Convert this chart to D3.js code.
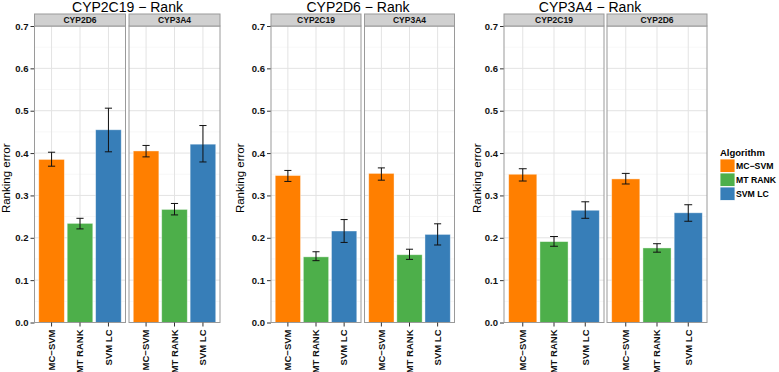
<!DOCTYPE html>
<html lang="en">
<head>
<meta charset="UTF-8">
<title>Ranking error</title>
<script src="https://d3js.org/d3.v7.min.js"></script>
<style>
    body { margin: 0; background: #fff; }
    svg { font-family: "Liberation Sans", Arial, sans-serif; }
    .axis path { display: none; }
    .axis line { stroke: #333; }
    .axis text { font-size: 9.5px; font-weight: bold; fill: #111; }
</style>
</head>
<body>
<svg width="779" height="372"></svg>
<script>
    // data
    let algorithms = ["MC\u2212SVM", "MT RANK", "SVM LC"];
    let colors = ["#FF7F00", "#4DAF4A", "#377EB8"];
    let chartTitles = ["CYP2C19 \u2212 Rank", "CYP2D6 \u2212 Rank", "CYP3A4 \u2212 Rank"];
    let panelNames = [["CYP2D6", "CYP3A4"], ["CYP2C19", "CYP3A4"], ["CYP2C19", "CYP2D6"]];
    let meanErr = [
        [[0.385, 0.234, 0.455], [0.405, 0.267, 0.421]],
        [[0.347, 0.155, 0.216], [0.352, 0.160, 0.208]],
        [[0.350, 0.191, 0.265], [0.339, 0.176, 0.259]]
    ];
    let lowErr = [
        [[0.369, 0.221, 0.403], [0.391, 0.254, 0.379]],
        [[0.333, 0.146, 0.189], [0.336, 0.149, 0.183]],
        [[0.334, 0.180, 0.246], [0.327, 0.166, 0.239]]
    ];
    let highErr = [
        [[0.402, 0.246, 0.506], [0.418, 0.281, 0.465]],
        [[0.359, 0.167, 0.243], [0.365, 0.173, 0.233]],
        [[0.363, 0.203, 0.285], [0.352, 0.186, 0.278]]
    ];
    let yTicks = [0, 0.1, 0.2, 0.3, 0.4, 0.5, 0.6, 0.7];
    let yMinor = [0.05, 0.15, 0.25, 0.35, 0.45, 0.55, 0.65];

    // layout of the three charts
    let chartLeft = [34.5, 271, 504];
    let panelW = [91, 90, 100];
    let panelGap = [3.5, 3.5, 3];
    let titleX = [127.5, 358, 590];
    let yLabelX = [10, 244, 481];
    let plotTop = 26, plotBottom = 322.5, stripH = 12;

    let svg = d3.select("svg");

    let y = d3.scaleLinear().domain([0, 0.7]).range([plotBottom, plotTop]);
    let color = d3.scaleOrdinal().domain(algorithms).range(colors);

    chartTitles.forEach((title, c) => {
        let g = svg.append("g");
        let left = chartLeft[c];

        g.append("text")
            .attr("x", titleX[c])
            .attr("y", 12)
            .attr("text-anchor", "middle")
            .attr("font-size", "14px")
            .attr("fill", "#000")
            .text(title);

        g.append("text")
            .attr("transform", `translate(${yLabelX[c]},${(plotTop + plotBottom) / 2 + 4}) rotate(-90)`)
            .attr("text-anchor", "middle")
            .attr("font-size", "11.5px")
            .attr("fill", "#000")
            .text("Ranking error");

        // y axis
        g.append("g")
            .attr("class", "axis")
            .attr("transform", `translate(${left},0)`)
            .call(d3.axisLeft(y).tickValues(yTicks).tickSize(4).tickPadding(2).tickFormat(d3.format(".1f")));

        panelNames[c].forEach((pname, p) => {
            let x0 = left + p * (panelW[c] + panelGap[c]);
            let x = d3.scaleBand()
                .domain(algorithms)
                .range([x0, x0 + panelW[c]])
                .paddingInner(0.1)
                .paddingOuter(0.15);
            let pg = g.append("g");

            // panel background + grid
            pg.append("rect")
                .attr("x", x0).attr("y", plotTop)
                .attr("width", panelW[c]).attr("height", plotBottom - plotTop)
                .attr("fill", "#fff");

            pg.selectAll(".minor").data(yMinor).enter().append("line")
                .attr("x1", x0).attr("x2", x0 + panelW[c])
                .attr("y1", d => y(d)).attr("y2", d => y(d))
                .attr("stroke", "#f2f2f2").attr("stroke-width", 0.6);

            pg.selectAll(".major").data(yTicks).enter().append("line")
                .attr("x1", x0).attr("x2", x0 + panelW[c])
                .attr("y1", d => y(d)).attr("y2", d => y(d))
                .attr("stroke", "#e3e3e3").attr("stroke-width", 1);

            pg.selectAll(".vgrid").data(algorithms).enter().append("line")
                .attr("x1", d => x(d) + x.bandwidth() / 2).attr("x2", d => x(d) + x.bandwidth() / 2)
                .attr("y1", plotTop).attr("y2", plotBottom)
                .attr("stroke", "#e3e3e3").attr("stroke-width", 1);

            let rows = algorithms.map((a, i) => ({
                alg: a,
                mean: meanErr[c][p][i],
                lo: lowErr[c][p][i],
                hi: highErr[c][p][i]
            }));

            pg.selectAll(".bar").data(rows).enter().append("rect")
                .attr("x", d => x(d.alg))
                .attr("y", d => y(d.mean))
                .attr("width", x.bandwidth())
                .attr("height", d => y(0) - y(d.mean))
                .attr("fill", d => color(d.alg))
                .attr("stroke", "#fff")
                .attr("stroke-opacity", 0.5)
                .attr("stroke-width", 0.8);

            let cap = x.bandwidth() * 0.28;
            let eb = pg.selectAll(".err").data(rows).enter().append("g")
                .attr("stroke", "#111").attr("stroke-width", 1);
            eb.append("line")
                .attr("x1", d => x(d.alg) + x.bandwidth() / 2).attr("x2", d => x(d.alg) + x.bandwidth() / 2)
                .attr("y1", d => y(d.lo)).attr("y2", d => y(d.hi));
            eb.append("line")
                .attr("x1", d => x(d.alg) + x.bandwidth() / 2 - cap / 2).attr("x2", d => x(d.alg) + x.bandwidth() / 2 + cap / 2)
                .attr("y1", d => y(d.lo)).attr("y2", d => y(d.lo));
            eb.append("line")
                .attr("x1", d => x(d.alg) + x.bandwidth() / 2 - cap / 2).attr("x2", d => x(d.alg) + x.bandwidth() / 2 + cap / 2)
                .attr("y1", d => y(d.hi)).attr("y2", d => y(d.hi));

            // panel border
            pg.append("rect")
                .attr("x", x0).attr("y", plotTop)
                .attr("width", panelW[c]).attr("height", plotBottom - plotTop)
                .attr("fill", "none").attr("stroke", "#9a9a9a").attr("stroke-width", 1);

            // strip
            pg.append("rect")
                .attr("x", x0).attr("y", plotTop - stripH)
                .attr("width", panelW[c]).attr("height", stripH)
                .attr("fill", "#d0d0d0").attr("stroke", "#9a9a9a").attr("stroke-width", 1);
            pg.append("text")
                .attr("x", x0 + panelW[c] / 2)
                .attr("y", plotTop - stripH / 2)
                .attr("dy", "0.35em")
                .attr("text-anchor", "middle")
                .attr("font-size", "8.5px")
                .attr("font-weight", "bold")
                .attr("fill", "#111")
                .text(pname);

            // x axis with rotated labels
            let gx = pg.append("g")
                .attr("class", "axis")
                .attr("transform", `translate(0,${plotBottom})`)
                .call(d3.axisBottom(x).tickSize(4).tickPadding(2));
            gx.selectAll("text")
                .attr("transform", "rotate(-90)")
                .attr("text-anchor", "end")
                .attr("x", -7)
                .attr("y", 0)
                .attr("dy", "0.35em");
        });
    });

    // legend
    let legend = svg.append("g").attr("transform", "translate(720,0)");
    legend.append("text")
        .attr("x", 0).attr("y", 156)
        .attr("font-size", "9.5px").attr("font-weight", "bold")
        .text("Algorithm");
    let items = legend.selectAll(".item").data(algorithms).enter().append("g")
        .attr("transform", (d, i) => `translate(0,${159 + i * 14})`);
    items.append("rect")
        .attr("width", 15).attr("height", 13.5)
        .attr("fill", d => color(d))
        .attr("stroke", "#fff").attr("stroke-width", 0.8);
    items.append("text")
        .attr("x", 16).attr("y", 7).attr("dy", "0.35em")
        .attr("font-size", "8.7px").attr("font-weight", "bold")
        .text(d => d);
</script>
</body>
</html>
